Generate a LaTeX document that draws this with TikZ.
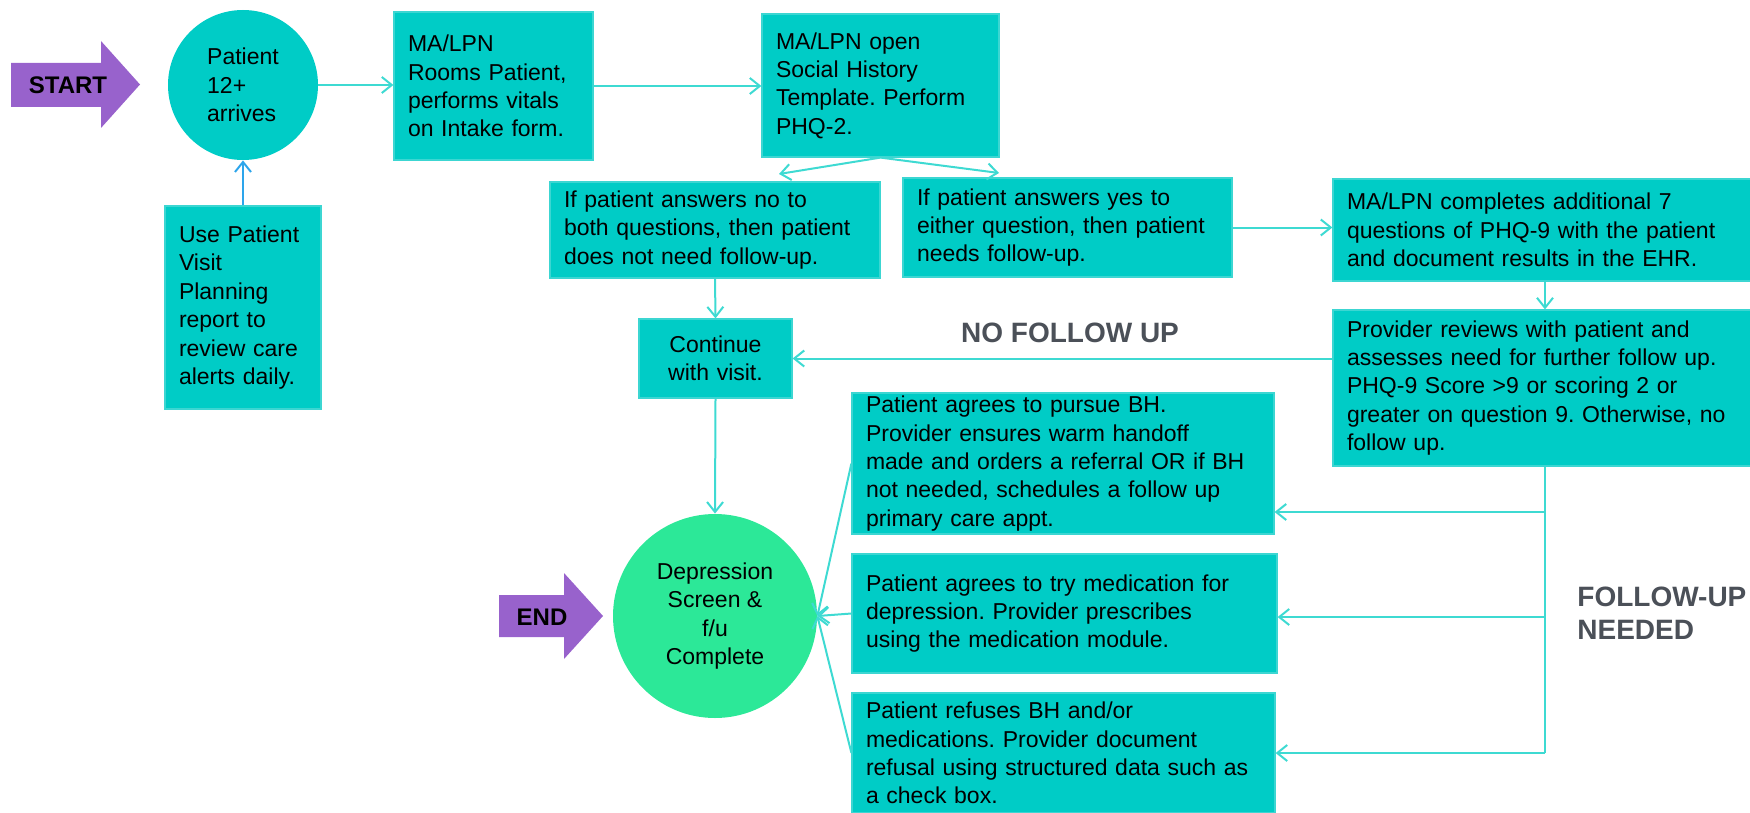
\documentclass[tikz,border=0pt]{standalone}
\usepackage{fontspec}
\setmainfont{Liberation Sans}
\usepackage{tikz}
\usetikzlibrary{arrows.meta, positioning}
\frenchspacing
\definecolor{boxteal}{RGB}{0,204,198}
\definecolor{boxedge}{RGB}{60,214,210}
\definecolor{linecyan}{RGB}{62,218,210}
\definecolor{arrowblue}{RGB}{45,165,235}
\definecolor{endgreen}{RGB}{44,232,152}
\definecolor{arrowpurple}{RGB}{152,98,204}
\definecolor{taggray}{RGB}{75,80,88}
\newcommand{\flowfont}{\fontsize{11.5}{14.2}\selectfont}
\newcommand{\tagfont}{\fontsize{14}{16.5}\selectfont\bfseries}
\tikzset{
    procbox/.style={rectangle, fill=boxteal, draw=boxedge, line width=0.6pt, inner xsep=7pt, inner ysep=1pt, align=left, font=\flowfont},
    stepcircle/.style={circle, fill=boxteal, inner sep=0pt, align=left, font=\flowfont},
    endcircle/.style={circle, fill=endgreen, inner sep=0pt, align=center, font=\flowfont},
    flowline/.style={line width=1pt, draw=linecyan},
    flowarrow/.style={-{Straight Barb[length=5pt,width=8pt]}, line width=1pt, draw=linecyan},
    tagtext/.style={text=taggray, font=\tagfont, align=left, inner sep=0pt},
    bigarrow/.style={fill=arrowpurple}
}

\begin{document}
\begin{tikzpicture}[x=0.5pt, y=-0.5pt]
    \useasboundingbox (0,0) rectangle (1750,813);

    % Start / end arrows
    \fill[bigarrow] (11,63) -- (101,63) -- (101,41) -- (140,84.5) -- (101,128) -- (101,107) -- (11,107) -- cycle;
    \node[font=\fontsize{12}{14}\selectfont\bfseries] (start) at (68,85) {START};
    \fill[bigarrow] (499,595) -- (564,595) -- (564,573) -- (603,616) -- (564,659) -- (564,637) -- (499,637) -- cycle;
    \node[font=\fontsize{12}{14}\selectfont\bfseries] (finish) at (542,617) {END};

    % Intake
    \node[stepcircle, minimum size=75pt] (arrive) at (243,85) {Patient\\12+\\arrives};
    \node[procbox, text width=64pt, minimum height=101.5pt] (visitplan) at (243,307.5) {Use Patient\\Visit\\Planning\\report to\\review care\\alerts daily.};
    \node[procbox, text width=85.5pt, minimum height=74pt] (rooms) at (493.5,86) {MA/LPN\\Rooms Patient,\\performs vitals\\on Intake form.};
    \node[procbox, text width=104.5pt, minimum height=71.5pt] (phq2) at (880.5,85.5) {MA/LPN open\\Social History\\Template. Perform\\PHQ-2.};

    % PHQ-2 outcomes
    \node[procbox, text width=151pt, minimum height=48pt] (noans) at (715,230) {If patient answers no to\\both questions, then patient\\does not need follow-up.};
    \node[procbox, text width=150.5pt, minimum height=49.5pt] (yesans) at (1067.5,227.5) {If patient answers yes to\\either question, then patient\\needs follow-up.};
    \node[procbox, text width=198pt, minimum height=51pt] (phq9) at (1545,230) {MA/LPN completes additional 7\\questions of PHQ-9 with the patient\\and document results in the EHR.};
    \node[procbox, text width=198pt, minimum height=78pt] (review) at (1545,388) {Provider reviews with patient and\\assesses need for further follow up.\\PHQ-9 Score >9 or scoring 2 or\\greater on question 9. Otherwise, no\\follow up.};
    \node[procbox, align=center, text width=62.5pt, minimum height=39.5pt] (continue) at (715.5,358.5) {Continue\\with visit.};

    % Follow-up options
    \node[procbox, text width=197pt, minimum height=70.5pt] (bhA) at (1063,463.5) {Patient agrees to pursue BH.\\Provider ensures warm handoff\\made and orders a referral OR if BH\\not needed, schedules a follow up\\primary care appt.};
    \node[procbox, text width=198.5pt, minimum height=59.5pt] (bhB) at (1064.5,613.5) {Patient agrees to try medication for\\depression. Provider prescribes\\using the medication module.};
    \node[procbox, text width=197.5pt, minimum height=60pt] (bhC) at (1063.5,753) {Patient refuses BH and/or\\medications. Provider document\\refusal using structured data such as\\a check box.};
    \node[endcircle, minimum size=102pt] (endc) at (715,616) {Depression\\Screen \&\\f/u\\Complete};

    % Labels
    \node[tagtext] (nofollow) at (1070,333) {NO FOLLOW UP};
    \node[tagtext, anchor=west] (needed) at (1577,613.5) {FOLLOW-UP\\NEEDED};

    \coordinate (noTip) at (779,174);
    \coordinate (yesTip) at (999,173);
    \coordinate (splitA) at (1545,512);
    \coordinate (splitB) at (1545,617);
    \coordinate (splitC) at (1545,753);

    % Connectors
    \draw[flowarrow, draw=arrowblue] (visitplan.north) -- (arrive.south);
    \draw[flowarrow] (arrive.east) -- (arrive.east -| rooms.west);
    \draw[flowarrow] (rooms.east) -- (rooms.east -| phq2.west);
    \draw[flowarrow] (phq2.south) -- (noTip);
    \draw[flowarrow] (phq2.south) -- (yesTip);
    \draw[flowarrow] (noans.south) -- (continue.north);
    \draw[flowarrow] (yesans.east) -- (yesans.east -| phq9.west);
    \draw[flowarrow] (phq9.south) -- (review.north);
    \draw[flowarrow] (review.west |- continue.east) -- (continue.east);
    \draw[flowarrow] (continue.south) -- (endc.north);
    \draw[flowline] (review.south) -- (splitC);
    \draw[flowarrow] (splitA) -- (splitA -| bhA.east);
    \draw[flowarrow] (splitB) -- (splitB -| bhB.east);
    \draw[flowarrow] (splitC) -- (splitC -| bhC.east);
    \draw[flowarrow] (bhA.west) -- (endc.east);
    \draw[flowarrow] (bhB.west) -- (endc.east);
    \draw[flowarrow] (bhC.west) -- (endc.east);
\end{tikzpicture}
\end{document}
